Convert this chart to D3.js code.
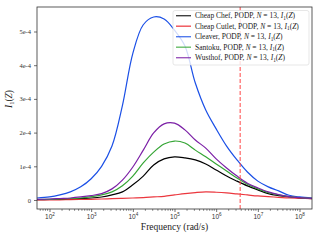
<!DOCTYPE html>
<html>
<head>
<meta charset="utf-8">
<script src="https://cdn.jsdelivr.net/npm/d3@7"></script>
<style>
  body { margin: 0; background: #fff; }
  svg { display: block; font-family: "Liberation Serif", "DejaVu Serif", serif; }
</style>
</head>
<body>
<svg id="chart" width="320" height="240"></svg>
<script>
// frequencies (rad/s), quarter-decade steps, plus the two plot edges
const freq = [50, 1e2, 1.78e2, 3.16e2, 5.62e2, 1e3, 1.78e3, 3.16e3, 5.62e3, 1e4, 1.78e4, 3.16e4, 5.62e4,
              1e5, 1.78e5, 3.16e5, 5.62e5, 1e6, 1.78e6, 3.16e6, 5.62e6, 1e7, 1.78e7, 3.16e7, 5.62e7, 1e8, 2e8];

// I_1 values, in units of 1e-4
const cheapChef   = [0.01, 0.015, 0.02, 0.03, 0.045, 0.06, 0.09, 0.15, 0.24, 0.45, 0.71, 1.04, 1.22, 1.28, 1.25, 1.19, 1.07, 0.89, 0.71, 0.56, 0.42, 0.30, 0.19, 0.13, 0.09, 0.06, 0.04];
const cheapCutlet = [0.0, 0.0, 0.005, 0.01, 0.015, 0.02, 0.03, 0.04, 0.05, 0.06, 0.07, 0.09, 0.11, 0.15, 0.19, 0.22, 0.24, 0.23, 0.21, 0.18, 0.15, 0.12, 0.10, 0.08, 0.06, 0.05, 0.04];
const cleaver     = [0.06, 0.09, 0.15, 0.24, 0.39, 0.63, 1.0, 1.6, 2.8, 4.35, 5.2, 5.43, 5.37, 5.04, 4.57, 3.47, 2.67, 2.11, 1.60, 1.19, 0.83, 0.56, 0.39, 0.27, 0.14, 0.09, 0.06];
const santoku     = [0.015, 0.02, 0.03, 0.045, 0.06, 0.10, 0.15, 0.24, 0.42, 0.71, 1.10, 1.42, 1.66, 1.75, 1.69, 1.48, 1.28, 1.07, 0.86, 0.65, 0.47, 0.33, 0.22, 0.15, 0.10, 0.07, 0.05];
const wusthof     = [0.02, 0.03, 0.045, 0.06, 0.09, 0.13, 0.19, 0.33, 0.59, 0.98, 1.48, 1.99, 2.26, 2.28, 2.08, 1.78, 1.54, 1.22, 0.95, 0.71, 0.50, 0.36, 0.24, 0.16, 0.10, 0.07, 0.05];

const knives = ["Cheap Chef", "Cheap Cutlet", "Cleaver", "Santoku", "Wusthof"];
const colors = ["#000000", "#e8141c", "#1a4fe6", "#35a535", "#7b1fa6"];
const series = [cheapChef, cheapCutlet, cleaver, santoku, wusthof];

const cutoff = 3.77e6;
const yTicks = [0, 1, 2, 3, 4, 5];
const yTickLabels = ["0", "1e-4", "2e-4", "3e-4", "4e-4", "5e-4"];
const xTicks = [1e2, 1e3, 1e4, 1e5, 1e6, 1e7, 1e8];

const svg = d3.select("#chart");
const pLeft = 37, pRight = 312, pTop = 7, pBottom = 209;

const x = d3.scaleLog().domain([Math.pow(10, 1.7), Math.pow(10, 8.3)]).range([pLeft, pRight]);
const y = d3.scaleLinear().domain([-0.267, 5.727]).range([pBottom, pTop]);

svg.append("defs").append("clipPath").attr("id", "clip")
    .append("rect").attr("x", pLeft).attr("y", pTop).attr("width", pRight - pLeft).attr("height", pBottom - pTop);

const line = d3.line()
    .x((d, i) => x(freq[i]))
    .y(d => y(d))
    .curve(d3.curveCatmullRom.alpha(0.5));

const plot = svg.append("g").attr("clip-path", "url(#clip)");

series.forEach((s, k) => {
    plot.append("path")
        .datum(s)
        .attr("d", line)
        .attr("fill", "none")
        .attr("stroke", colors[k])
        .attr("stroke-opacity", k === 1 ? 0.85 : 1)
        .attr("stroke-width", 1.2);
});

// cutoff line
plot.append("line")
    .attr("x1", x(cutoff)).attr("x2", x(cutoff))
    .attr("y1", pTop).attr("y2", pBottom)
    .attr("stroke", "#ff4a4a")
    .attr("stroke-opacity", 0.85)
    .attr("stroke-width", 1.2)
    .attr("stroke-dasharray", "4,2");

// axes
const xAxis = d3.axisBottom(x)
    .tickValues(xTicks)
    .tickSize(3)
    .tickFormat("");
const gx = svg.append("g").attr("transform", `translate(0,${pBottom})`).call(xAxis);

// minor ticks
const minor = [];
for (let e = 1; e <= 8; e++) {
    for (let m = 2; m <= 9; m++) {
        const v = m * Math.pow(10, e);
        if (v > x.domain()[0] && v < x.domain()[1]) minor.push(v);
    }
}
gx.selectAll(".minor").data(minor).enter().append("line")
    .attr("class", "minor")
    .attr("x1", d => x(d)).attr("x2", d => x(d))
    .attr("y1", 0).attr("y2", 1.8)
    .attr("stroke", "#333").attr("stroke-width", 0.6);

gx.selectAll(".tick").each(function(d) {
    const t = d3.select(this).append("text")
        .attr("y", 9.8)
        .attr("fill", "#333")
        .attr("text-anchor", "middle")
        .style("font-size", "6.5px");
    t.append("tspan").text("10");
    t.append("tspan").attr("dy", -2.6).style("font-size", "4.6px").text(Math.round(Math.log10(d)));
});

const yAxis = d3.axisLeft(y)
    .tickValues(yTicks)
    .tickSize(3)
    .tickFormat((d, i) => yTickLabels[i]);
const gy = svg.append("g").attr("transform", `translate(${pLeft},0)`).call(yAxis);
gy.selectAll("text").style("font-size", "6.5px").attr("fill", "#333")
    .style("font-family", "'Liberation Serif', serif");

[gx, gy].forEach(g => {
    g.select(".domain").remove();
    g.selectAll(".tick line").attr("stroke", "#333").attr("stroke-width", 0.7);
});

// frame
svg.append("rect")
    .attr("x", pLeft).attr("y", pTop)
    .attr("width", pRight - pLeft).attr("height", pBottom - pTop)
    .attr("fill", "none").attr("stroke", "#333").attr("stroke-width", 0.8);

// axis labels
svg.append("text")
    .attr("x", (pLeft + pRight) / 2).attr("y", 229.5)
    .attr("text-anchor", "middle")
    .attr("fill", "#222")
    .style("font-size", "9.5px")
    .text("Frequency (rad/s)");

const yl = svg.append("text")
    .attr("transform", `translate(12,99) rotate(-90)`)
    .attr("text-anchor", "middle")
    .attr("fill", "#222")
    .style("font-size", "9.5px");
yl.append("tspan").style("font-style", "italic").text("I");
yl.append("tspan").attr("dy", 2).style("font-size", "6.5px").text("1");
yl.append("tspan").attr("dy", -2).text("(");
yl.append("tspan").style("font-style", "italic").text("Z");
yl.append("tspan").text(")");

// legend
const lg = svg.append("g");
lg.append("rect")
    .attr("x", 173).attr("y", 10.5)
    .attr("width", 136).attr("height", 54.5)
    .attr("rx", 2)
    .attr("fill", "#fff").attr("fill-opacity", 0.8)
    .attr("stroke", "#ddd").attr("stroke-width", 0.7);

knives.forEach((name, k) => {
    const ry = 15.7 + k * 10.5;
    lg.append("line")
        .attr("x1", 176).attr("x2", 191)
        .attr("y1", ry).attr("y2", ry)
        .attr("stroke", colors[k]).attr("stroke-opacity", 0.75).attr("stroke-width", 1.4);
    const t = lg.append("text")
        .attr("x", 195).attr("y", ry + 2.4)
        .attr("fill", "#222")
        .style("font-size", "7.5px");
    t.append("tspan").text(name + ", PODP, ");
    t.append("tspan").style("font-style", "italic").text("N");
    t.append("tspan").text(" = 13, ");
    t.append("tspan").style("font-style", "italic").text("I");
    t.append("tspan").attr("dy", 1.5).style("font-size", "5.3px").text("1");
    t.append("tspan").attr("dy", -1.5).text("(");
    t.append("tspan").style("font-style", "italic").text("Z");
    t.append("tspan").text(")");
});
</script>
</body>
</html>
